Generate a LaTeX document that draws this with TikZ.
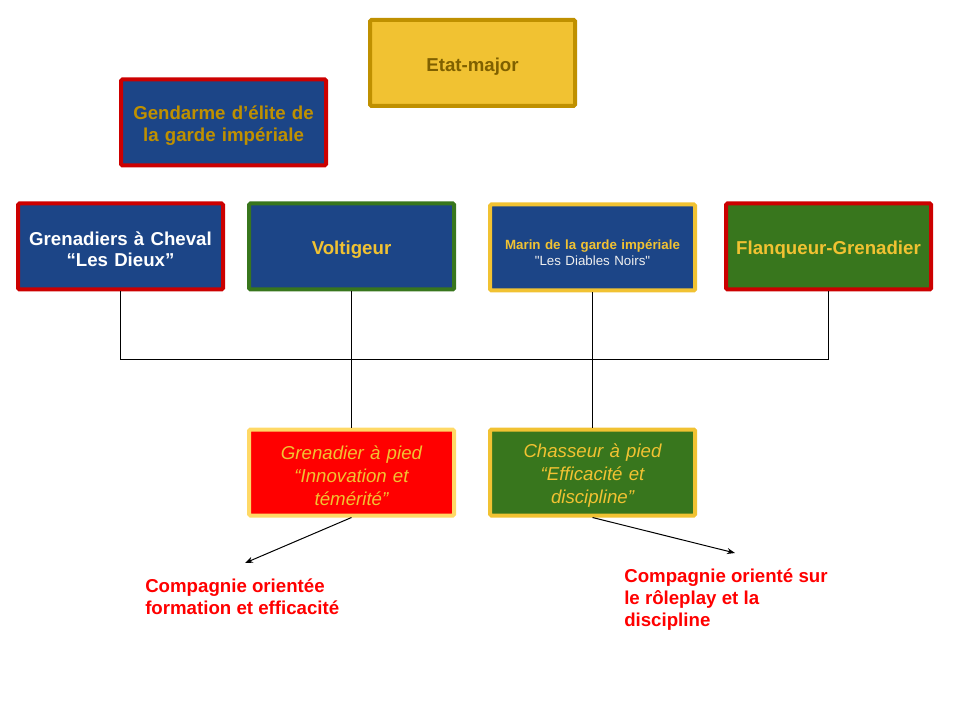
\documentclass[tikz,border=0pt]{standalone}
\usepackage{fontspec}
\setmainfont{Liberation Sans}
\newfontfamily\straightquotes[Ligatures=TeXOff]{Liberation Sans}
\usetikzlibrary{arrows.meta, positioning}

\definecolor{navyfill}{HTML}{1C4587}
\definecolor{redline}{HTML}{CC0000}
\definecolor{goldfill}{HTML}{F1C232}
\definecolor{golddark}{HTML}{BF9000}
\definecolor{goldtext}{HTML}{7F6000}
\definecolor{goldpale}{HTML}{FFD966}
\definecolor{greenfill}{HTML}{38761D}
\definecolor{redfill}{HTML}{FF0000}
\definecolor{greytext}{HTML}{EFEFEF}

\begin{document}
\begin{tikzpicture}[
    x=0.75pt, y=-0.75pt,
    block/.style={rectangle, line width=3pt, rounded corners=1pt, minimum width=153.75pt, minimum height=64.5pt, text width=148pt, text height=15pt, align=center, inner sep=0pt, font=\bfseries\fontsize{14}{15.75}\selectfont},
    company/.style={block, font=\itshape\fontsize{14}{17.25}\selectfont},
    note/.style={anchor=north west, inner sep=0pt, align=left, text=redfill, font=\bfseries\fontsize{14}{16.5}\selectfont},
    link/.style={line width=0.75pt, draw=black},
    arrow/.style={-{Stealth[length=6pt, width=4.5pt]}, line width=0.75pt, draw=black}
]
    \useasboundingbox (0,0) rectangle (960,720);

    % top of the chart
    \node[block, fill=goldfill, draw=golddark, text=goldtext] (etat) at (472.5,63) {Etat-major};
    \node[block, fill=navyfill, draw=redline, text=golddark, font=\bfseries\fontsize{14}{17}\selectfont] (gendarme) at (223.5,122.5) {Gendarme d’élite de\\la garde impériale};

    % regiments
    \node[block, fill=navyfill, draw=redline, text=white] (cheval) at (120.5,246.5) {Grenadiers à Cheval\\“Les Dieux”};
    \node[block, fill=navyfill, draw=greenfill, text=goldfill] (voltigeur) at (351.5,246.5) {Voltigeur};
    \node[block, fill=navyfill, draw=goldfill, text=goldfill, font=\bfseries\fontsize{10}{12}\selectfont] (marin) at (592.5,247.5) {Marin de la garde impériale\\\straightquotes\mdseries\color{greytext}"Les Diables Noirs"};
    \node[block, fill=greenfill, draw=redline, text=goldfill] (flanqueur) at (828.5,246.5) {Flanqueur-Grenadier};

    % companies
    \node[company, fill=redfill, draw=goldpale, text=goldfill] (grenpied) at (351.5,472.5) {Grenadier à pied\\“Innovation et\\témérité”};
    \node[company, fill=greenfill, draw=goldfill, text=goldfill] (chasseur) at (592.5,472.5) {Chasseur à pied\\“Efficacité et\\discipline”};

    \coordinate (hub) at (592.5,359);
    \draw[link] (cheval.south) |- (hub) -- (chasseur.north);
    \draw[link] (flanqueur.south) |- (hub);
    \draw[link] (marin.south) -- (hub);
    \draw[link] (voltigeur.south) -- (grenpied.north);

    % notes
    \node[note] (formation) at (145,579) {Compagnie orientée\\formation et efficacité};
    \node[note] (roleplay) at (624,569) {Compagnie orienté sur\\le rôleplay et la\\discipline};

    \coordinate (leftend) at (245,563);
    \coordinate (rightend) at (735,553);
    \draw[arrow] (grenpied.south) -- (leftend);
    \draw[arrow] (chasseur.south) -- (rightend);
\end{tikzpicture}
\end{document}
